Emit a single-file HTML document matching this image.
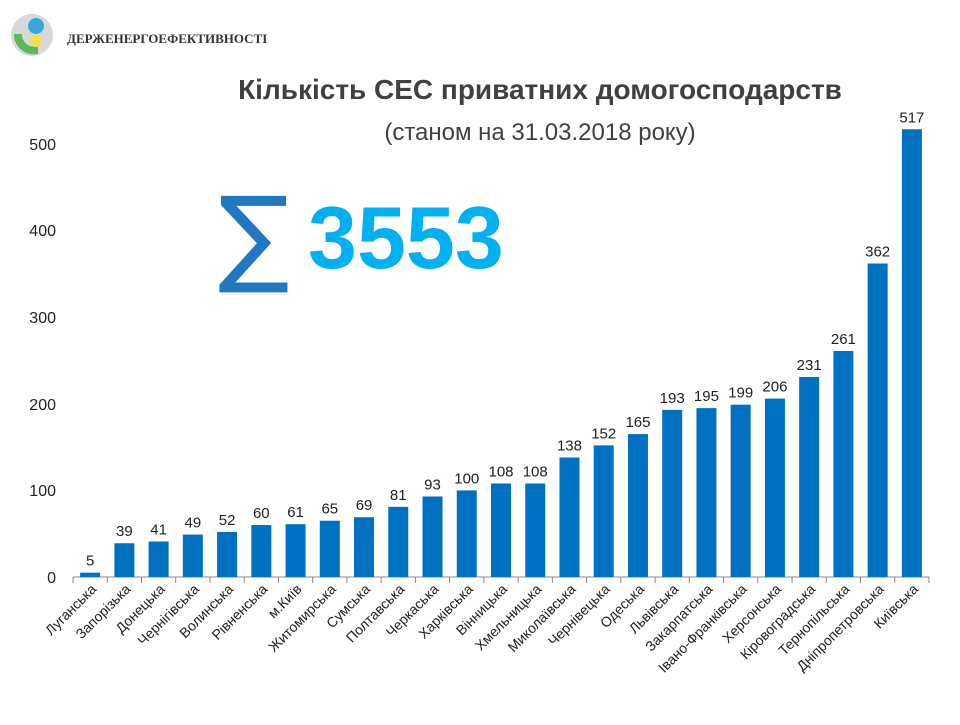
<!DOCTYPE html>
<html><head><meta charset="utf-8"><style>
body{margin:0;background:#fff;width:960px;height:720px;overflow:hidden;font-family:"Liberation Sans","DejaVu Sans",sans-serif}
</style></head><body>
<svg width="960" height="720" viewBox="0 0 960 720" xmlns="http://www.w3.org/2000/svg" font-family="Liberation Sans, DejaVu Sans, sans-serif">
<circle cx="32" cy="35" r="21" fill="#d8d8d8"/>
<circle cx="36" cy="26" r="8" fill="#3aa6dc"/>
<path d="M14 34 A20 20 0 0 0 38 54 L38 46 A12 12 0 0 1 22 34Z" fill="#5cb85c"/>
<circle cx="36" cy="41" r="6" fill="#f2e14a"/>
<text x="67" y="43" font-family="Liberation Serif, DejaVu Serif, serif" font-weight="bold" font-size="13" fill="#333">ДЕРЖЕНЕРГОЕФЕКТИВНОСТІ</text>
<text x="540" y="99" text-anchor="middle" font-size="28" font-weight="bold" fill="#404040">Кількість СЕС приватних домогосподарств</text>
<text x="540" y="140" text-anchor="middle" font-size="24" fill="#404040">(станом на 31.03.2018 року)</text>
<text x="218" y="272" font-size="106" font-family="DejaVu Sans, sans-serif" fill="#1f78c1">∑</text>
<text x="308" y="268" font-size="88" font-weight="bold" fill="#00b0f0">3553</text>
<g font-size="16" fill="#222" text-anchor="end">
<text x="56" y="583">0</text><text x="56" y="496">100</text><text x="56" y="410">200</text><text x="56" y="323">300</text><text x="56" y="236">400</text><text x="56" y="150">500</text>
</g>
<line x1="73" y1="577" x2="929" y2="577" stroke="#888"/>
<g id="c"></g>
</svg>
<script>
var d=[["Луганська",5],["Запорізька",39],["Донецька",41],["Чернігівська",49],["Волинська",52],["Рівненська",60],["м.Київ",61],["Житомирська",65],["Сумська",69],["Полтавська",81],["Черкаська",93],["Харківська",100],["Вінницька",108],["Хмельницька",108],["Миколаївська",138],["Чернівецька",152],["Одеська",165],["Львівська",193],["Закарпатська",195],["Івано-Франківська",199],["Херсонська",206],["Кіровоградська",231],["Тернопільська",261],["Дніпропетровська",362],["Київська",517]];
var s="",w=34.24;
for(var i=0;i<=25;i++){var x=73+i*w;s+='<line x1="'+x+'" y1="577" x2="'+x+'" y2="583" stroke="#888"/>';}
d.forEach(function(e,i){var cx=73+w*(i+0.5),h=e[1]*0.866;
s+='<rect x="'+(cx-10)+'" y="'+(577-h)+'" width="20" height="'+h+'" fill="#0070c0"/>';
s+='<text x="'+cx+'" y="'+(577-h-7)+'" text-anchor="middle" font-size="15" fill="#222">'+e[1]+'</text>';
s+='<text transform="translate('+(cx+7)+',590) rotate(-45)" text-anchor="end" font-size="14" fill="#222">'+e[0]+'</text>';});
document.getElementById("c").innerHTML=s;
</script>
</body></html>
